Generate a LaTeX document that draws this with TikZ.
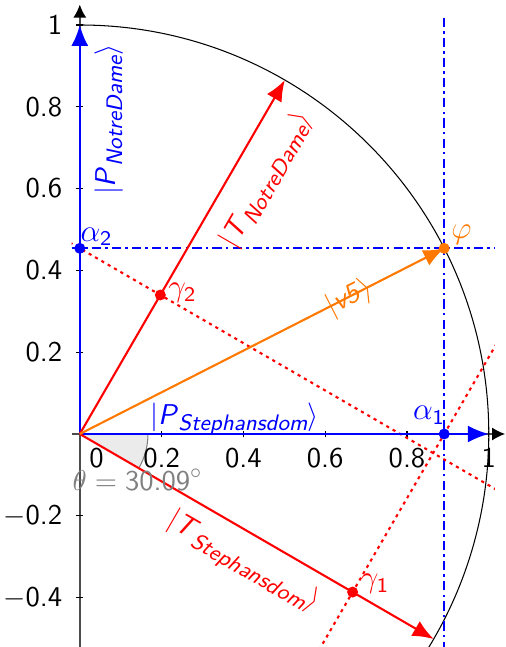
\documentclass[tikz,border=0pt]{standalone}
\usepackage{amsmath}
\usepackage{fontspec}
\usetikzlibrary{arrows.meta,calc}
\definecolor{vorange}{RGB}{255,120,0}
\newcommand{\myket}[2]{$|$\textit{#1}\raisebox{-0.5ex}{\fontsize{8.6}{9}\selectfont\itshape #2}$\rangle$}
\begin{document}
\begin{tikzpicture}[x=5.5cm,y=5.5cm,
  font=\sffamily\fontsize{10.95}{13}\selectfont,
  axisline/.style={black!70, line width=0.6pt, -{Latex[length=5pt,width=5pt,black]}},
  tickmark/.style={black, line width=0.4pt},
  vec/.style={line width=0.8pt, -{Latex[length=8pt,width=6.5pt]}},
  bluedd/.style={blue, line width=0.9pt, dash pattern=on 3.5pt off 1.6pt on 1pt off 1.6pt},
  reddot/.style={red, line width=0.8pt, dash pattern=on 1.2pt off 1.6pt},
  pt/.style={circle, fill, inner sep=0pt, minimum size=4.2pt},
  lbl/.style={inner sep=1pt},
  glbl/.style={inner sep=1pt, font=\sffamily\large}]
\useasboundingbox (-0.1951,-0.5208) rectangle (1.0415,1.0611);

% key points
\coordinate (O) at (0,0);
\coordinate (PS) at (1,0);
\coordinate (PN) at (0,1);
\coordinate (TS) at (-30.09:1);
\coordinate (TN) at (59.91:1);
\coordinate (phi) at (0.891,0.454);
\coordinate (a1) at (0.891,0);
\coordinate (a2) at (0,0.454);
\coordinate (g1) at ($(O)!(a1)!(TS)$);
\coordinate (g2) at ($(O)!(a2)!(TN)$);
\coordinate (xs) at (-0.02,0);
\coordinate (xe) at (1.04,0);
\coordinate (ys) at (0,-0.5208);
\coordinate (ye) at (0,1.05);

% angle wedge
\fill[black!8] (O) -- (0.1667,0) arc (0:-30.09:0.1667) -- cycle;
\draw[gray, line width=0.4pt] (0.1667,0) arc (0:-30.09:0.1667);

% axes
\draw[axisline] (xs) -- (xe);
\draw[axisline] (ys) -- (ye);
\foreach \x in {0.2,0.4,0.6,0.8,1}
  \draw[tickmark] (\x,0) ++(0,-1.3pt) -- ++(0,2.6pt);
\foreach \y in {-0.4,-0.2,0.2,0.4,0.6,0.8,1}
  \draw[tickmark] (0,\y) ++(-1.3pt,0) -- ++(2.6pt,0);
\node (xl0) at (0.041,-0.058) {0};
\foreach \x in {0.2,0.4,0.6,0.8}
  \node (xl\x) at (\x,-0.058) {\x};
\node (xl1) at (1,-0.058) {1};
\foreach \y in {0.2,0.4,0.6,0.8}
  \node[anchor=east, inner sep=0pt] (yl\y) at (-0.042,\y) {\y};
\node[anchor=east, inner sep=0pt] (yl1) at (-0.042,1) {1};
\node[anchor=east, inner sep=0pt] (ylm2) at (-0.042,-0.2) {$-$0.2};
\node[anchor=east, inner sep=0pt] (ylm4) at (-0.042,-0.4) {$-$0.4};

% unit circle, guide lines
\begin{scope}
  \clip (-0.02,-0.5208) rectangle (1.015,1.02);
  \draw[black, line width=0.4pt] (PN) arc (90:-60:1);
  \draw[bluedd] (0.891,-0.53) -- (0.891,1.02);
  \draw[bluedd] (-0.02,0.454) -- (1.015,0.454);
  \draw[reddot] ($(a2)+(149.91:0.1)$) -- ($(a2)+(-30.09:1.3)$);
  \draw[reddot] ($(a1)+(-120.09:0.7)$) -- ($(a1)+(59.91:0.4)$);
\end{scope}

% vectors
\draw[vec, blue] (O) -- (PS);
\draw[vec, blue] (O) -- (PN);
\draw[vec, red] (O) -- (TS);
\draw[vec, red] (O) -- (TN);
\draw[vec, vorange] (O) -- (phi);

% points
\node[pt, blue] (da1) at (a1) {};
\node[pt, blue] (da2) at (a2) {};
\node[pt, vorange] (dphi) at (phi) {};
\node[pt, red] (dg1) at (g1) {};
\node[pt, red] (dg2) at (g2) {};

% labels
\node[lbl, blue, rotate=90] (lPN) at (0.0707,0.768) {\myket{P}{NotreDame}};
\node[lbl, blue] (lPS) at (0.378,0.0367) {\myket{P}{Stephansdom}};
\node[lbl, red, rotate=59.91] (lTN) at (0.456,0.621) {\myket{T}{NotreDame}};
\node[lbl, red, rotate=-30.09] (lTS) at (0.398,-0.315) {\myket{T}{Stephansdom}};
\node[lbl, vorange, rotate=27] (lv) at (0.659,0.333) {$|$\textit{v5}$\rangle$};
\node[glbl, vorange] (lphi) at (0.933,0.488) {$\varphi$};
\node[glbl, blue] (la1) at (0.854,0.046) {$\alpha_{\textsf{1}}$};
\node[glbl, blue] (la2) at (0.041,0.482) {$\alpha_{\textsf{2}}$};
\node[glbl, red] (lg2) at (0.251,0.345) {$\gamma_{\textsf{2}}$};
\node[glbl, red] (lg1) at (0.722,-0.367) {$\gamma_{\textsf{1}}$};
\node[lbl, gray] (lth) at (0.1415,-0.1125) {$\theta = \textsf{30.09}^\circ$};
\end{tikzpicture}
\end{document}
